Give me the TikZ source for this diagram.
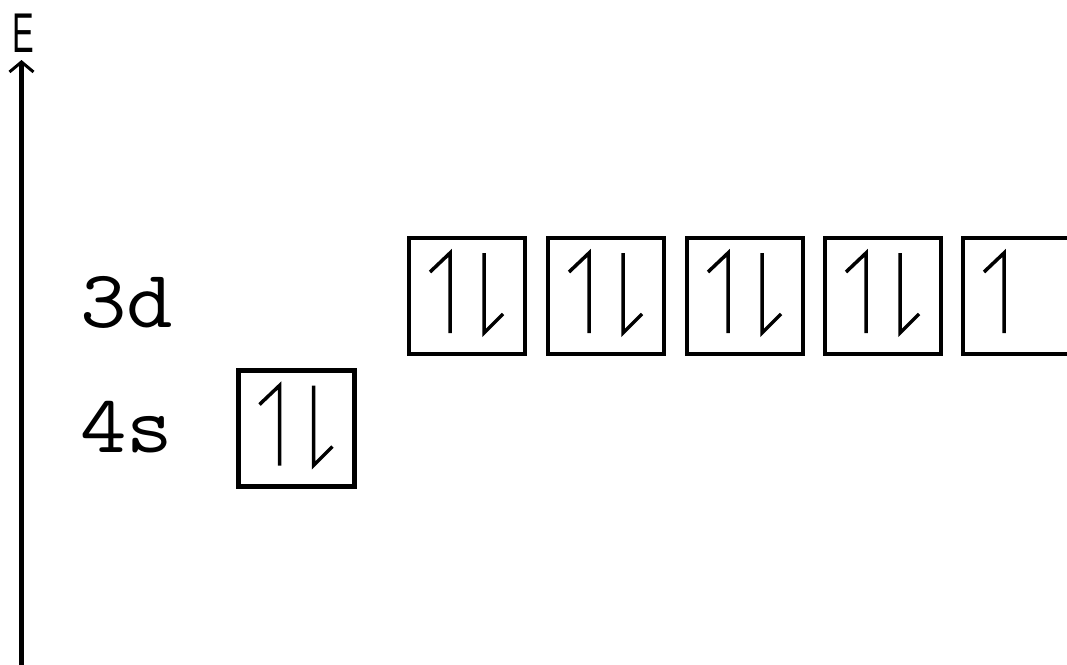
\documentclass[tikz,border=0pt]{standalone}
\usepackage{fontspec}
\newfontfamily\sansf{Liberation Sans}
\usetikzlibrary{arrows.meta}
\tikzset{
  orb/.style={draw, line width=4.3pt, rectangle, inner sep=0pt, minimum width=116pt, minimum height=116pt},
  spin/.style={line width=3.5pt, line join=miter, line cap=butt},
  spinup/.pic={\draw[spin] (-37,-24) -- (-17,-43) -- (-17,37);},
  spinupdn/.pic={\draw[spin] (-37,-24) -- (-17,-43) -- (-17,37);
                 \draw[spin] (17,-43) -- (17,37) -- (36,18);},
  lvl/.style={font=\ttfamily\fontsize{82}{82}\selectfont, inner sep=0pt, anchor=base west, xscale=1.1},
  axis/.style={line width=5pt, -{Straight Barb[length=10pt,width=24pt,line width=3pt]}}
}
\begin{document}
\begin{tikzpicture}[x=1pt,y=-1pt]
\useasboundingbox (0,0) rectangle (1067,664);
\clip (0,0) rectangle (1067,664);
% energy axis
\coordinate (axbot) at (21.5,670);
\coordinate (axtop) at (21.5,60);
\draw[axis] (axbot) -- (axtop);
\node[inner sep=0pt, anchor=base west, font=\sansf\fontsize{56}{56}\selectfont, xscale=0.58] (E) at (12,52) {E};
% labels
\node[lvl] (l3d) at (80,327) {3d};
\node[lvl] (l4s) at (80,452) {4s};
% 4s orbital
\node[orb] (s1) at (296.5,428.5) {};
\pic at (s1.center) {spinupdn};
% 3d orbitals
\node[orb] (d1) at (467,296) {};
\node[orb] (d2) at (606,296) {};
\node[orb] (d3) at (745,296) {};
\node[orb] (d4) at (883,296) {};
\node[orb] (d5) at (1021,296) {};
\pic at (d1.center) {spinupdn};
\pic at (d2.center) {spinupdn};
\pic at (d3.center) {spinupdn};
\pic at (d4.center) {spinupdn};
\pic at (d5.center) {spinup};
\end{tikzpicture}
\end{document}
